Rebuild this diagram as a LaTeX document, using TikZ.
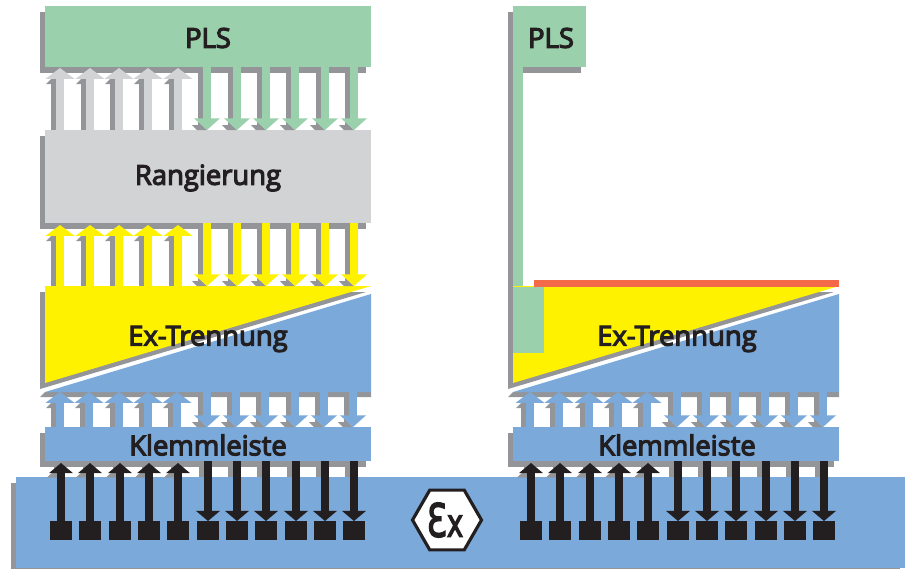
\documentclass[tikz,border=0pt]{standalone}
\usepackage{fontspec}
\setmainfont{Open Sans}
\newfontfamily\labelfont{Open Sans}[FakeBold=4.2]
\newfontfamily\exfont{DejaVu Sans}[FakeBold=3.5]
\usetikzlibrary{arrows.meta, calc, shapes.geometric}

\definecolor{plsgreen}{HTML}{9AD1AC}
\definecolor{shadowgray}{HTML}{939598}
\definecolor{rangray}{HTML}{D1D3D4}
\definecolor{exyellow}{HTML}{FFF200}
\definecolor{klemmblue}{HTML}{7AA9DA}
\definecolor{pinblack}{HTML}{231F20}
\definecolor{barorange}{HTML}{F4694A}

\tikzset{
    plate/.style={inner sep=0pt, outer sep=0pt, minimum height=#1},
    label/.style={font=\fontsize{15.6}{15.6}\labelfont, text=pinblack, inner sep=0pt},
    pin/.style={fill=pinblack, inner sep=0pt, outer sep=0pt, minimum width=22*0.02cm, minimum height=19*0.02cm},
    blackshaft/.style={line width=4pt, pinblack, -{Triangle[width=13.2pt,length=5.7pt]}},
    upperarrow/.style={line width=4.5pt, -{Triangle[width=16.2pt,length=6.2pt]}},
    lowerarrow/.style={line width=4.5pt, -{Triangle[width=14.3pt,length=6.6pt]}},
    arrowshade/.style={line width=2.85pt, shadowgray}
}

% arrow with shadow: x, start, tip, colour
\newcommand{\arrowup}[4]{
    \draw[arrowshade] ($(#1,0 |- #2)+(-6.5,0)$) -- ($(#1,0 |- #3)+(-6.5,11)$);
    \fill[shadowgray] ($(#1,0 |- #3)+(-14,16)$) -- ($(#1,0 |- #3)+(-9,11)$) -- ($(#1,0 |- #3)+(-4,11)$) -- ($(#1,0 |- #3)+(-4,16)$) -- cycle;
    \draw[upperarrow, #4] (#1,0 |- #2) -- (#1,0 |- #3);
}
\newcommand{\arrowdown}[4]{
    \draw[arrowshade] ($(#1,0 |- #2)+(-6.5,0)$) -- ($(#1,0 |- #3)+(-6.5,-5)$);
    \fill[shadowgray] ($(#1,0 |- #3)+(-15,-5)$) -- ($(#1,0 |- #3)+(-5,-5)$) -- (#1,0 |- #3) -- ($(#1,0 |- #3)+(-10,0)$) -- cycle;
    \draw[lowerarrow, #4] (#1,0 |- #2) -- (#1,0 |- #3);
}

\begin{document}
\begin{tikzpicture}[x=0.02cm, y=-0.02cm]
    \useasboundingbox (0,0) rectangle (906,569);

    % Base strip
    \fill[shadowgray] (11,483) rectangle (900,569);
    \node[plate=91*0.02cm, minimum width=889*0.02cm, fill=klemmblue, anchor=north west] (base) at (16,477) {};

    % Left column: PLS and Rangierung
    \fill[shadowgray] (40,12) rectangle (366,73);
    \node[plate=61*0.02cm, minimum width=326*0.02cm, fill=plsgreen, anchor=north west] (plsl) at (45,6) {};
    \node[label] (plslabel) at (208,38) {PLS};
    \fill[shadowgray] (40,136) rectangle (366,229);
    \node[plate=93*0.02cm, minimum width=326*0.02cm, fill=rangray, anchor=north west] (rang) at (45,130) {};
    \node[label] (ranglabel) at (208,178) {Rangierung};
    \coordinate (plstip) at (0,68);
    \coordinate (rangtip) at (0,225);

    % Right column: PLS with strip
    \fill[shadowgray] (508,12) rectangle (581,73);
    \fill[shadowgray] (508,73) rectangle (513,292);
    \fill[plsgreen] (513,60) rectangle (523,288);
    \node[plate=61*0.02cm, minimum width=73*0.02cm, fill=plsgreen, anchor=north west] (plsr) at (513,6) {};
    \node[label] (plsrlabel) at (551,38) {PLS};

    % Both columns from Ex-Trennung down
    \foreach \col/\off/\aoff/\txt in {l/0/0/208, r/468/470/677} {
        \coordinate (extop\col) at (45+\off,286);
        \coordinate (exbot\col) at (45+\off,392);
        \fill[shadowgray] (40+\off,292) -- (366+\off,292) -- (40+\off,389) -- cycle;
        \fill[exyellow] (extop\col) -- (371+\off,286) -- (45+\off,383) -- cycle;
        \fill[shadowgray] (40+\off,397) -- (45+\off,392) -- (371+\off,392) -- (371+\off,397) -- cycle;
        \fill[klemmblue] (371+\off,294) -- (371+\off,392) -- (exbot\col) -- cycle;
        \node[label] (ex\col) at (\txt,339) {Ex-Trennung};
        \fill[shadowgray] (40+\off,433) rectangle (366+\off,467);
        \node[plate=34*0.02cm, minimum width=326*0.02cm, fill=klemmblue, anchor=north west] (kl\col) at (45+\off,427) {};
        \node[label] (kllabel\col) at (\txt,445) {Klemmleiste};
        % Terminals and field arrows
        \foreach \x in {61,90,120,149,178} {
            \arrowup{\x+\aoff-1}{kl\col.north}{exbot\col}{klemmblue}
            \fill[shadowgray] (\x+\aoff-7,467) -- (\x+\aoff-3,467) -- (\x+\aoff-3,477.5) -- (\x+\aoff-14,477.5) -- (\x+\aoff-7,471) -- cycle;
            \node[pin] (pin\col\x) at (\x+\aoff,530.5) {};
            \draw[blackshaft] (pin\col\x.north) -- (\x+\aoff,463);
        }
        \foreach \x in {208,237,266,296,325,354} {
            \arrowdown{\x+\aoff-1}{exbot\col}{kl\col.north}{klemmblue}
            \node[pin] (pin\col\x) at (\x+\aoff,530.5) {};
            \draw[arrowshade] (\x+\aoff-6.5,467) -- (\x+\aoff-6.5,477);
            \draw[blackshaft] (\x+\aoff,461) -- (pin\col\x.north);
        }
    }

    % Arrows of the left column
    \foreach \x in {60,90,119,148,178} {
        \arrowup{\x}{rang.north}{plstip}{rangray}
        \arrowup{\x}{extopl}{rangtip}{exyellow}
    }
    \foreach \x in {207,237,266,295,325,354} {
        \arrowdown{\x}{plsl.south}{rang.north}{plsgreen}
        \arrowdown{\x}{rang.south}{extopl}{exyellow}
    }

    % Right column: green block and red bar
    \fill[plsgreen] (513,287) rectangle (544,353);
    \fill[barorange] (534,280) rectangle (839,287);

    % Ex mark
    \node[regular polygon, regular polygon sides=6, minimum size=69*0.02cm, inner sep=0pt, draw=pinblack, line width=1.8pt, fill=white] (exmark) at (447,520) {};
    \node[text=pinblack, inner sep=0pt] (exmarklabel) at (445,520) {\scalebox{0.72}[1]{\exfont\fontsize{26}{26}\selectfont Ɛ\fontsize{22}{22}\selectfont x}};
\end{tikzpicture}
\end{document}
